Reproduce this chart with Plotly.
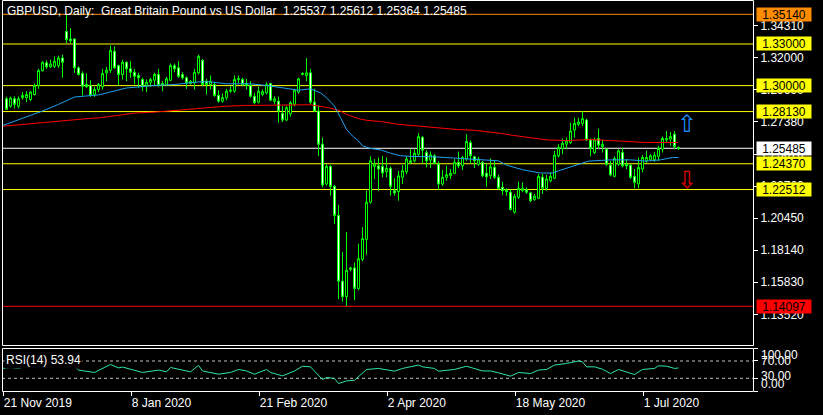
import plotly.graph_objects as go

# ---------------- data ----------------
bars = list(range(169))
opens = [1.2905,1.2852,1.2905,1.2852,1.2913,1.2913,1.2900,1.2936,1.3000,1.3108,
         1.3164,1.3135,1.3139,1.3144,1.3199,1.3390,1.3336,1.3336,1.3128,1.3087,
         1.3008,1.3001,1.2936,1.2972,1.2992,1.3092,1.3111,1.3247,1.3144,1.3080,
         1.3168,1.3121,1.3096,1.3073,1.3044,1.3001,1.3024,1.3039,1.3080,1.3015,
         1.3008,1.3039,1.3144,1.3128,1.3080,1.3056,1.3015,1.3020,1.3092,1.3182,
         1.3032,1.3008,1.3008,1.2929,1.2888,1.2913,1.2960,1.2960,1.3044,1.3044,
         1.3015,1.3001,1.2924,1.2881,1.2936,1.2948,1.3015,1.2886,1.2888,1.2800,
         1.2752,1.2796,1.2865,1.2953,1.3080,1.3073,1.3092,1.2881,1.2817,1.2578,
         1.2291,1.2418,1.2274,1.2064,1.1591,1.1479,1.1676,1.1686,1.1538,1.1748,
         1.1892,1.2160,1.2418,1.2422,1.2418,1.2379,1.2404,1.2243,1.2236,1.2339,
         1.2379,1.2458,1.2458,1.2505,1.2626,1.2518,1.2463,1.2494,1.2434,1.2291,
         1.2339,1.2350,1.2368,1.2447,1.2422,1.2470,1.2589,1.2487,1.2434,1.2447,
         1.2368,1.2350,1.2411,1.2339,1.2267,1.2250,1.2232,1.2088,1.2196,1.2243,
         1.2250,1.2227,1.2178,1.2188,1.2339,1.2260,1.2315,1.2332,1.2494,1.2547,
         1.2578,1.2590,1.2680,1.2721,1.2728,1.2752,1.2609,1.2518,1.2619,1.2561,
         1.2542,1.2427,1.2346,1.2434,1.2518,1.2434,1.2427,1.2346,1.2291,1.2399,
         1.2458,1.2465,1.2465,1.2490,1.2542,1.2609,1.2614,1.2650,1.25537]
highs = [1.2920,1.2920,1.2922,1.2922,1.2953,1.2960,1.2960,1.3015,1.3121,1.3175,
         1.3182,1.3187,1.3211,1.3216,1.3223,1.3514,1.3415,1.3343,1.3139,1.3103,
         1.3087,1.3039,1.2992,1.3020,1.3121,1.3135,1.3288,1.3283,1.3151,1.3187,
         1.3175,1.3175,1.3121,1.3092,1.3056,1.3044,1.3056,1.3092,1.3121,1.3032,
         1.3063,1.3159,1.3159,1.3175,1.3096,1.3067,1.3039,1.3121,1.3223,1.3192,
         1.3049,1.3073,1.3024,1.2967,1.2943,1.2977,1.2996,1.3073,1.3073,1.3056,
         1.3049,1.3032,1.2948,1.2992,1.2972,1.3024,1.3020,1.2924,1.2920,1.2852,
         1.2852,1.2888,1.2977,1.3056,1.3096,1.3199,1.3121,1.2977,1.2857,1.2626,
         1.2434,1.2427,1.2284,1.2140,1.1801,1.1945,1.1694,1.1725,1.1861,1.1980,
         1.2243,1.2490,1.2470,1.2482,1.2494,1.2482,1.2418,1.2332,1.2386,1.2427,
         1.2490,1.2542,1.2542,1.2657,1.2637,1.2535,1.2525,1.2506,1.2454,1.2392,
         1.2422,1.2399,1.2470,1.2525,1.2494,1.2650,1.2606,1.2494,1.2487,1.2458,
         1.2439,1.2475,1.2458,1.2358,1.2307,1.2260,1.2250,1.2219,1.2307,1.2303,
         1.2267,1.2236,1.2219,1.2363,1.2363,1.2356,1.2375,1.2530,1.2578,1.2619,
         1.2626,1.2733,1.2769,1.2769,1.2817,1.2762,1.2619,1.2626,1.2690,1.2609,
         1.2547,1.2458,1.2490,1.2542,1.2554,1.2470,1.2434,1.2399,1.2482,1.2499,
         1.2530,1.2506,1.2523,1.2566,1.2633,1.2673,1.2666,1.2673,1.25612]
lows = [1.2824,1.2841,1.2836,1.2836,1.2900,1.2881,1.2888,1.2929,1.2977,1.3101,
        1.3121,1.3128,1.3128,1.3128,1.3056,1.3307,1.3307,1.3092,1.3073,1.2929,
        1.2984,1.2920,1.2920,1.2953,1.2972,1.3032,1.3092,1.3121,1.3001,1.3044,
        1.3032,1.3056,1.3008,1.2984,1.2960,1.2953,1.2992,1.2996,1.2992,1.2960,
        1.2996,1.3032,1.3096,1.3056,1.3044,1.2977,1.3008,1.2972,1.3080,1.2996,
        1.2936,1.2972,1.2920,1.2877,1.2877,1.2895,1.2948,1.2948,1.3020,1.2996,
        1.2972,1.2913,1.2865,1.2872,1.2924,1.2936,1.2888,1.2865,1.2733,1.2738,
        1.2745,1.2776,1.2852,1.2943,1.3075,1.3032,1.2865,1.2809,1.2494,1.2267,
        1.2279,1.2207,1.2004,1.1461,1.1443,1.1412,1.1662,1.1454,1.1526,1.1734,
        1.1782,1.2148,1.2327,1.2243,1.2339,1.2339,1.2207,1.2207,1.2171,1.2291,
        1.2363,1.2434,1.2447,1.2494,1.2439,1.2411,1.2406,1.2434,1.2248,1.2279,
        1.2315,1.2327,1.2363,1.2406,1.2392,1.2458,1.2439,1.2406,1.2422,1.2339,
        1.2272,1.2327,1.2327,1.2250,1.2212,1.2207,1.2100,1.2076,1.2183,1.2232,
        1.2219,1.2160,1.2171,1.2183,1.2219,1.2243,1.2303,1.2327,1.2482,1.2506,
        1.2542,1.2578,1.2626,1.2709,1.2709,1.2601,1.2490,1.2506,1.2542,1.2518,
        1.2422,1.2346,1.2339,1.2422,1.2411,1.2399,1.2327,1.2260,1.2260,1.2375,
        1.2442,1.2458,1.2451,1.2458,1.2518,1.2594,1.2566,1.2542,1.25364]
closes = [1.2829,1.2910,1.2865,1.2905,1.2929,1.2936,1.2953,1.3001,1.3108,1.3168,
          1.3135,1.3156,1.3175,1.3199,1.3168,1.3331,1.3323,1.3128,1.3080,1.2996,
          1.2992,1.2929,1.2972,1.3008,1.3087,1.3111,1.3254,1.3128,1.3080,1.3168,
          1.3121,1.3096,1.3067,1.3056,1.2992,1.3024,1.3044,1.3080,1.3001,1.3008,
          1.3049,1.3144,1.3121,1.3067,1.3056,1.3020,1.3032,1.3096,1.3211,1.3008,
          1.3008,1.3032,1.2929,1.2888,1.2913,1.2960,1.2967,1.3044,1.3051,1.3008,
          1.3001,1.2924,1.2877,1.2960,1.2956,1.3008,1.2895,1.2905,1.2817,1.2752,
          1.2841,1.2877,1.2967,1.3049,1.3088,1.3092,1.2881,1.2817,1.2578,1.2284,
          1.2418,1.2274,1.2064,1.1591,1.1479,1.1669,1.1686,1.1538,1.1753,1.1897,
          1.2160,1.2458,1.2434,1.2399,1.2370,1.2404,1.2274,1.2227,1.2350,1.2386,
          1.2470,1.2447,1.2513,1.2633,1.2535,1.2458,1.2501,1.2439,1.2291,1.2339,
          1.2358,1.2368,1.2447,1.2422,1.2482,1.2597,1.2494,1.2458,1.2470,1.2350,
          1.2343,1.2415,1.2339,1.2260,1.2243,1.2236,1.2107,1.2203,1.2260,1.2260,
          1.2232,1.2171,1.2203,1.2346,1.2260,1.2327,1.2346,1.2499,1.2554,1.2585,
          1.2601,1.2673,1.2728,1.2738,1.2762,1.2609,1.2547,1.2609,1.2571,1.2578,
          1.2434,1.2356,1.2475,1.2530,1.2422,1.2422,1.2339,1.2303,1.2411,1.2482,
          1.2482,1.2494,1.2499,1.2547,1.2619,1.2619,1.2633,1.2561,1.25485]

ma_fast_bar = [-1, 4, 9, 13, 17, 23, 26, 30, 37, 42, 48, 51, 55, 61, 65, 68, 71, 73, 76,
               78.5, 80, 82, 83.5, 85, 86.5, 88, 89, 91, 93.5, 96, 98.5, 101, 107, 110,
               113, 119, 123, 125, 127, 129, 133.5, 136.5, 138, 140, 143, 145.5, 151,
               156, 160, 163.5, 166.5, 168]
ma_fast = [1.2712, 1.2762, 1.2817, 1.2865, 1.2918, 1.2933, 1.2956, 1.2983, 1.3001, 1.3008,
           1.3027, 1.3027, 1.3013, 1.3013, 1.3001, 1.2989, 1.2972, 1.2967, 1.2977,
           1.2948, 1.2913, 1.2852, 1.2769, 1.2685, 1.2637, 1.2601, 1.2566, 1.2547, 1.2537,
           1.2513, 1.2495, 1.2490, 1.2487, 1.2482, 1.2475, 1.2470, 1.2458, 1.2427, 1.2411,
           1.2394, 1.2370, 1.2370, 1.2386, 1.2404, 1.2434, 1.2456, 1.2465, 1.2465, 1.2456,
           1.2465, 1.2482, 1.2482]
ma_slow_bar = [-1, 10, 20.5, 23.5, 28, 32, 37, 45, 49, 55, 60, 68.5, 76, 80.5, 83.5, 85, 88,
               90, 93.5, 98, 102, 106, 110, 113, 117, 120, 122, 124, 126.5, 129.5, 133, 135,
               140, 146, 151, 155, 160, 168]
ma_slow = [1.2707, 1.2738, 1.2763, 1.2769, 1.2786, 1.2802, 1.2809, 1.2829, 1.2841, 1.2852,
           1.2857, 1.2857, 1.2862, 1.2841, 1.2817, 1.2793, 1.2762, 1.2750, 1.2741, 1.2721,
           1.2710, 1.2702, 1.2690, 1.2683, 1.2678, 1.2669, 1.2660, 1.2654, 1.2642, 1.2630,
           1.2619, 1.2609, 1.2604, 1.2611, 1.2604, 1.2597, 1.2590, 1.2590]

rsi_bar = [-1, 1, 3, 5, 8, 12, 15, 17, 18, 22, 26, 28, 29, 34, 38, 40, 41, 46, 48, 49, 53, 56,
           58, 60, 62, 65, 66, 69, 72, 74, 76, 79, 80, 82, 83, 85, 87, 90, 93, 97, 99, 103,
           104, 107, 108, 112, 115, 119, 121, 123, 126, 128, 131, 133, 135, 137, 140, 143,
           144, 145, 147, 149, 151, 153, 155, 157, 159, 162, 163, 165, 167, 168]
rsi = [52.8, 55, 52.8, 58, 68, 72, 74, 58, 49, 43.5, 62, 54, 56, 43.5, 49, 45, 55, 45, 60, 47,
       39.5, 43.5, 50.4, 47, 39.5, 50.4, 43.5, 35.6, 47, 58, 56.5, 27, 32, 29.5, 18, 24, 25.6,
       50.4, 52.8, 46.5, 52.8, 60.5, 56.5, 52.8, 46.5, 50.4, 58, 47, 47, 42.6, 35, 43.5, 41,
       49, 50.4, 60.5, 64.3, 70, 68, 56.5, 56.5, 51, 41, 50.4, 45, 38.8, 50.4, 52.8, 59, 58,
       52.8, 53.94]

level_prices = [1.35140, 1.33000, 1.30000, 1.28130, 1.24370, 1.22512, 1.14097]
level_colors = ["#FF8C00", "#FFFF00", "#FFFF00", "#FFFF00", "#FFFF00", "#FFFF00", "#FF0000"]
bid_price = 1.25485
price_ticks = [1.34310, 1.32000, 1.29690, 1.27380, 1.25070, 1.22760, 1.20450, 1.18140, 1.15830, 1.13520]
date_tick_bars = [-0.8, 31.2, 63.2, 95.2, 127.2, 159.2]
date_tick_labels = ["21 Nov 2019", "8 Jan 2020", "21 Feb 2020", "2 Apr 2020", "18 May 2020", "1 Jul 2020"]
rsi_levels = [70, 30]
rsi_tick_values = [100, 70, 30, 0]
rsi_tick_labels = ["100.00", "70.00", "30.00", "0.00"]
up_arrow = (170, 1.2723)
down_arrow = (170, 1.2320)
title = "GBPUSD, Daily:\u00a0\u00a0Great Britain Pound vs US Dollar\u00a0\u00a01.25537 1.25612 1.25364 1.25485"
rsi_title = "RSI(14) 53.94"

# ---------------- layout geometry (pixels) ----------------
W, H = 823, 415
FONT = "Liberation Sans"
def fx(px):
    return px / W
def fy(py):
    return 1 - py / H

PX_PER_PRICE = 1387.6
main_top, main_bot = 0.0, 345.5
rsi_top, rsi_bot = 348.0, 391.3
def price_at(py):
    return 1.35140 - (py - 14.3) / PX_PER_PRICE

x_left_px, x_right_px = 2.0, 753.0
bar_px = 4.0
x0 = -1 - 0.125
x1 = x0 + (x_right_px - x_left_px) / bar_px

fig = go.Figure()

fig.add_trace(go.Candlestick(
    x=bars, open=opens, high=highs, low=lows, close=closes,
    increasing=dict(line=dict(color="#00FF00", width=1), fillcolor="#000000"),
    decreasing=dict(line=dict(color="#00FF00", width=1), fillcolor="#FFFFFF"),
    whiskerwidth=0, yaxis="y", xaxis="x", hoverinfo="skip", showlegend=False))

fig.add_trace(go.Scatter(x=ma_slow_bar, y=ma_slow, mode="lines",
                         line=dict(color="#FF0000", width=1), yaxis="y", hoverinfo="skip", showlegend=False))
fig.add_trace(go.Scatter(x=ma_fast_bar, y=ma_fast, mode="lines",
                         line=dict(color="#1EA0F0", width=1), yaxis="y", hoverinfo="skip", showlegend=False))
fig.add_trace(go.Scatter(x=rsi_bar, y=rsi, mode="lines",
                         line=dict(color="#2EE6A0", width=1), yaxis="y2", hoverinfo="skip", showlegend=False))

shapes = []
for p, c in zip(level_prices, level_colors):
    shapes.append(dict(type="line", xref="paper", yref="y", x0=fx(x_left_px), x1=fx(x_right_px),
                       y0=p, y1=p, line=dict(color=c, width=1), layer="below"))
shapes.append(dict(type="line", xref="paper", yref="y", x0=fx(x_left_px), x1=fx(x_right_px),
                   y0=bid_price, y1=bid_price, line=dict(color="#FFFFFF", width=1), layer="below"))
for lv in rsi_levels:
    shapes.append(dict(type="line", xref="paper", yref="y2", x0=fx(x_left_px), x1=fx(x_right_px),
                       y0=lv, y1=lv, line=dict(color="#C0C0C0", width=1, dash="3px,3px"), layer="below"))
# panel frames
shapes.append(dict(type="rect", xref="paper", yref="paper", x0=fx(2.5), x1=fx(753.5),
                   y0=fy(345.5), y1=fy(0.5), line=dict(color="#FFFFFF", width=1)))
shapes.append(dict(type="rect", xref="paper", yref="paper", x0=fx(2.5), x1=fx(753.5),
                   y0=fy(391.5), y1=fy(348.5), line=dict(color="#FFFFFF", width=1)))

annotations = []
annotations.append(dict(xref="paper", yref="paper", x=fx(5), y=fy(10.5), xanchor="left", yanchor="middle",
                        text=title, showarrow=False, font=dict(family=FONT, size=12, color="#FFFFFF")))
for p, c in zip(level_prices, level_colors):
    annotations.append(dict(xref="paper", yref="y", x=fx(755.5), y=p, xanchor="left", yanchor="middle",
                            text=f"{p:.5f}", showarrow=False, bgcolor=c, borderpad=0, width=54, height=13,
                            align="center", font=dict(family=FONT, size=12, color="#000000")))
annotations.append(dict(xref="paper", yref="y", x=fx(755.5), y=bid_price, xanchor="left", yanchor="middle",
                        text=f"{bid_price:.5f}", showarrow=False, bgcolor="#FFFFFF", borderpad=0, width=54,
                        height=13, align="center", font=dict(family=FONT, size=12, color="#000000")))
rsi_shifts = [-7, 0, 2, 7]
for v, t, s in zip(rsi_tick_values, rsi_tick_labels, rsi_shifts):
    annotations.append(dict(xref="paper", yref="y2", x=fx(759), y=v, xanchor="left", yanchor="middle",
                            yshift=s, text=t, showarrow=False,
                            font=dict(family=FONT, size=12, color="#FFFFFF")))
annotations.append(dict(xref="paper", yref="paper", x=fx(4), y=fy(359.5), xanchor="left", yanchor="middle",
                        text=rsi_title, showarrow=False, bgcolor="#000000", borderpad=1,
                        font=dict(family=FONT, size=12, color="#FFFFFF")))
annotations.append(dict(xref="x", yref="y", x=up_arrow[0], y=up_arrow[1], text="\u21e7", showarrow=False,
                        font=dict(family="DejaVu Sans", size=24, color="#1E90FF")))
annotations.append(dict(xref="x", yref="y", x=down_arrow[0], y=down_arrow[1], text="\u21e9", showarrow=False,
                        font=dict(family="DejaVu Sans", size=24, color="#E00000")))

fig.update_layout(
    width=W, height=H, autosize=False,
    margin=dict(l=0, r=0, t=0, b=0, pad=0),
    paper_bgcolor="#000000", plot_bgcolor="#000000",
    showlegend=False, boxgap=0.5, boxgroupgap=0,
    xaxis=dict(domain=[fx(x_left_px), fx(x_right_px)], range=[x0, x1], anchor="y2",
               tickvals=date_tick_bars, ticktext=date_tick_labels, ticks="outside", ticklen=4,
               tickcolor="#FFFFFF", tickfont=dict(family=FONT, size=12, color="#FFFFFF"),
               ticklabelposition="outside right", showgrid=False, zeroline=False, showline=False,
               rangeslider=dict(visible=False), fixedrange=True),
    yaxis=dict(domain=[fy(main_bot), fy(main_top)], range=[price_at(main_bot), price_at(main_top)],
               anchor="x", side="right", tickvals=price_ticks, tickformat=".5f", ticks="outside",
               ticklen=4, tickcolor="#FFFFFF", tickfont=dict(family=FONT, size=12, color="#FFFFFF"),
               showgrid=False, zeroline=False, showline=False, fixedrange=True),
    yaxis2=dict(domain=[fy(rsi_bot), fy(rsi_top)], range=[0, 100], anchor="x", side="right",
                tickvals=rsi_tick_values, ticks="outside", ticklen=4, tickcolor="#FFFFFF",
                showticklabels=False, showgrid=False, zeroline=False, showline=False, fixedrange=True),
    shapes=shapes, annotations=annotations,
)

fig.write_html("out.html", config={"displayModeBar": False},
               post_script="document.body.style.margin='0';document.body.style.overflow='hidden';")
